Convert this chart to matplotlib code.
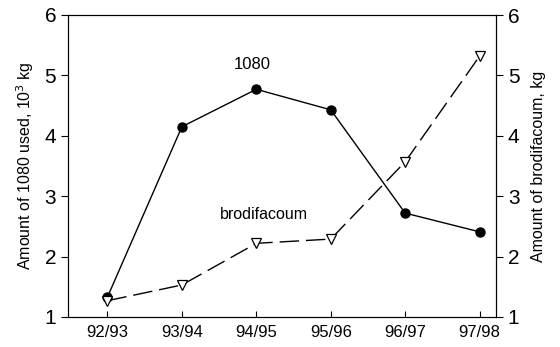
import matplotlib.pyplot as plt
import numpy as np

plt.rcParams['font.family'] = ['Liberation Sans', 'DejaVu Sans']

seasons = ["92/93", "93/94", "94/95", "95/96", "96/97", "97/98"]
used_1080 = [1.33, 4.15, 4.77, 4.43, 2.72, 2.41]
brodifacoum = [1.27, 1.53, 2.22, 2.29, 3.57, 5.32]

fig = plt.figure(figsize=(5.6, 3.47), dpi=100)
ax = fig.add_axes([68/560, 1 - 317/347, (496-68)/560, (317-15)/347])
x = np.arange(len(seasons))

ax.plot(x, used_1080, '-', color='black', lw=1, marker='o', ms=6.5, mfc='black')
ax.plot(x, brodifacoum, color='black', lw=1, dashes=(14, 5), marker='v', ms=7.5,
        mfc='white', mec='black', mew=0.9)

ax.text(1.95, 5.1, "1080", fontsize=12, ha='center')
ax.text(2.1, 2.62, "brodifacoum", fontsize=11.5, ha='center')

ax.set_xlim(-0.53, 5.22)
ax.set_ylim(1, 6)
ax.set_xticks(x)
ax.set_xticklabels(seasons, fontsize=12)
ax.set_yticks([1, 2, 3, 4, 5, 6])
ax.tick_params(axis='x', direction='in', length=4, pad=6)
ax.tick_params(axis='y', direction='out', length=5, labelsize=15)
ax.set_ylabel("Amount of 1080 used, 10$^3$ kg", fontsize=11.5, labelpad=6)

ax2 = ax.twinx()
ax2.set_ylim(1, 6)
ax2.set_yticks([1, 2, 3, 4, 5, 6])
ax2.tick_params(axis='y', direction='out', length=5, labelsize=15)
ax2.set_ylabel("Amount of brodifacoum, kg", fontsize=11.5, labelpad=8)

fig.savefig("out.png", dpi=100)
